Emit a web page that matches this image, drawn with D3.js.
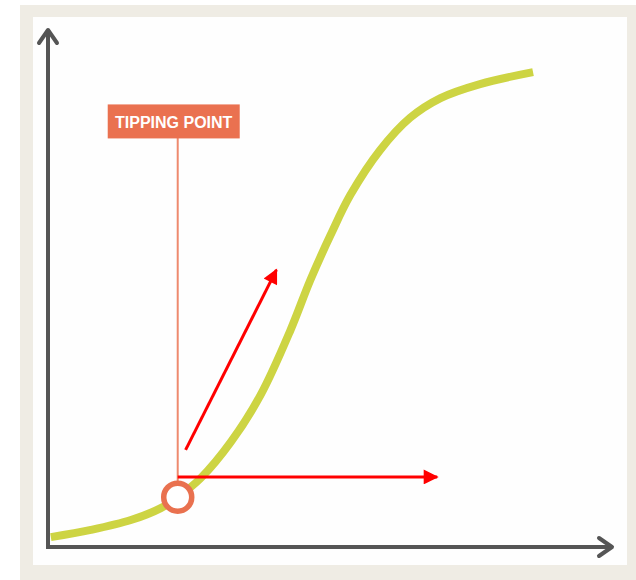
<!DOCTYPE html>
<html>
<head>
<meta charset="utf-8">
<script src="https://cdn.jsdelivr.net/npm/d3@7"></script>
<style>
  body { margin: 0; background: #fff; }
  svg { display: block; }
</style>
</head>
<body>
<div id="chart"></div>
<script>
// s-curve (x: 0-100, y: 0-100)
const curveX = [0.5, 7.6, 14.7, 20.0, 23.0, 27.1, 32.4, 37.7, 43.0, 46.5, 50.1, 53.6, 58.9, 64.2, 69.6, 76.6, 86.0];
const curveY = [1.9, 3.3, 5.2, 7.5, 9.6, 13.3, 20.2, 29.3, 41.8, 51.4, 60.1, 67.8, 76.5, 82.7, 86.5, 89.2, 91.5];

const tipX = 23.0;
const tipY = 9.6;
const tipLabel = "TIPPING POINT";
const tipLabelY = 82.0;

// red arrows: [x1, y1, x2, y2]
const arrows = [
  [23.0, 13.5, 69.0, 13.5],
  [24.4, 18.7, 40.5, 53.4]
];

const width = 636;
const height = 580;

const svg = d3.select("#chart")
              .append("svg")
              .attr("width", width)
              .attr("height", height);

// frame
svg.append("rect")
   .attr("x", 20).attr("y", 5)
   .attr("width", width - 20).attr("height", height - 5)
   .attr("fill", "#efece4");
svg.append("rect")
   .attr("x", 33).attr("y", 17)
   .attr("width", 594).attr("height", 548)
   .attr("fill", "#fefefe");

const xScale = d3.scaleLinear().domain([0, 100]).range([48, 612]);
const yScale = d3.scaleLinear().domain([0, 100]).range([547, 28]);

const defs = svg.append("defs");
defs.append("marker")
    .attr("id", "redhead")
    .attr("viewBox", "0 0 10 10")
    .attr("refX", 9).attr("refY", 5)
    .attr("markerWidth", 6).attr("markerHeight", 5)
    .attr("markerUnits", "strokeWidth")
    .attr("orient", "auto")
    .append("path")
    .attr("d", "M0,0 L10,5 L0,10 Z")
    .attr("fill", "#ff0000");

// axes
const axisColor = "#555";
svg.append("path")
   .attr("d", `M${xScale(0)},${yScale(0)} L${xScale(0)},${yScale(100) + 2}`)
   .attr("stroke", axisColor).attr("stroke-width", 4).attr("fill", "none");
svg.append("path")
   .attr("d", `M${xScale(0) - 2},${yScale(0)} L${xScale(100)},${yScale(0)}`)
   .attr("stroke", axisColor).attr("stroke-width", 4).attr("fill", "none");
svg.append("path")
   .attr("d", `M${xScale(0) - 9},${yScale(100) + 15} L${xScale(0)},${yScale(100) + 2} L${xScale(0) + 9},${yScale(100) + 15}`)
   .attr("stroke", axisColor).attr("stroke-width", 4).attr("fill", "none")
   .attr("stroke-linecap", "round").attr("stroke-linejoin", "round");
svg.append("path")
   .attr("d", `M${xScale(100) - 13},${yScale(0) - 9} L${xScale(100)},${yScale(0)} L${xScale(100) - 13},${yScale(0) + 9}`)
   .attr("stroke", axisColor).attr("stroke-width", 4).attr("fill", "none")
   .attr("stroke-linecap", "round").attr("stroke-linejoin", "round");

// s-curve
const points = curveX.map((x, i) => [x, curveY[i]]);
const line = d3.line()
               .x(d => xScale(d[0]))
               .y(d => yScale(d[1]))
               .curve(d3.curveCatmullRom);
svg.append("path")
   .datum(points)
   .attr("d", line)
   .attr("fill", "none")
   .attr("stroke", "#cdd443")
   .attr("stroke-width", 8);

// tipping point leader + label
svg.append("line")
   .attr("x1", xScale(tipX)).attr("x2", xScale(tipX))
   .attr("y1", yScale(tipY)).attr("y2", yScale(tipLabelY))
   .attr("stroke", "#ee8a6e").attr("stroke-width", 2);

svg.append("rect")
   .attr("x", xScale(tipX) - 70).attr("y", yScale(tipLabelY) - 17)
   .attr("width", 132).attr("height", 34)
   .attr("fill", "#ea7150");
svg.append("text")
   .attr("x", xScale(tipX) - 4).attr("y", yScale(tipLabelY) + 1)
   .attr("text-anchor", "middle")
   .attr("dominant-baseline", "central")
   .style("font-family", "Liberation Sans, Arial, sans-serif")
   .style("font-weight", "bold")
   .style("font-size", "16px")
   .attr("fill", "#fff")
   .text(tipLabel);

// red arrows
svg.selectAll(".arrow")
   .data(arrows)
   .enter()
   .append("line")
   .attr("class", "arrow")
   .attr("x1", d => xScale(d[0]))
   .attr("y1", d => yScale(d[1]))
   .attr("x2", d => xScale(d[2]))
   .attr("y2", d => yScale(d[3]))
   .attr("stroke", "#ff0000")
   .attr("stroke-width", 3)
   .attr("marker-end", "url(#redhead)");

// tipping point marker
svg.append("circle")
   .attr("cx", xScale(tipX)).attr("cy", yScale(tipY))
   .attr("r", 14)
   .attr("fill", "#fff")
   .attr("stroke", "#e9714f")
   .attr("stroke-width", 5.5);
</script>
</body>
</html>
